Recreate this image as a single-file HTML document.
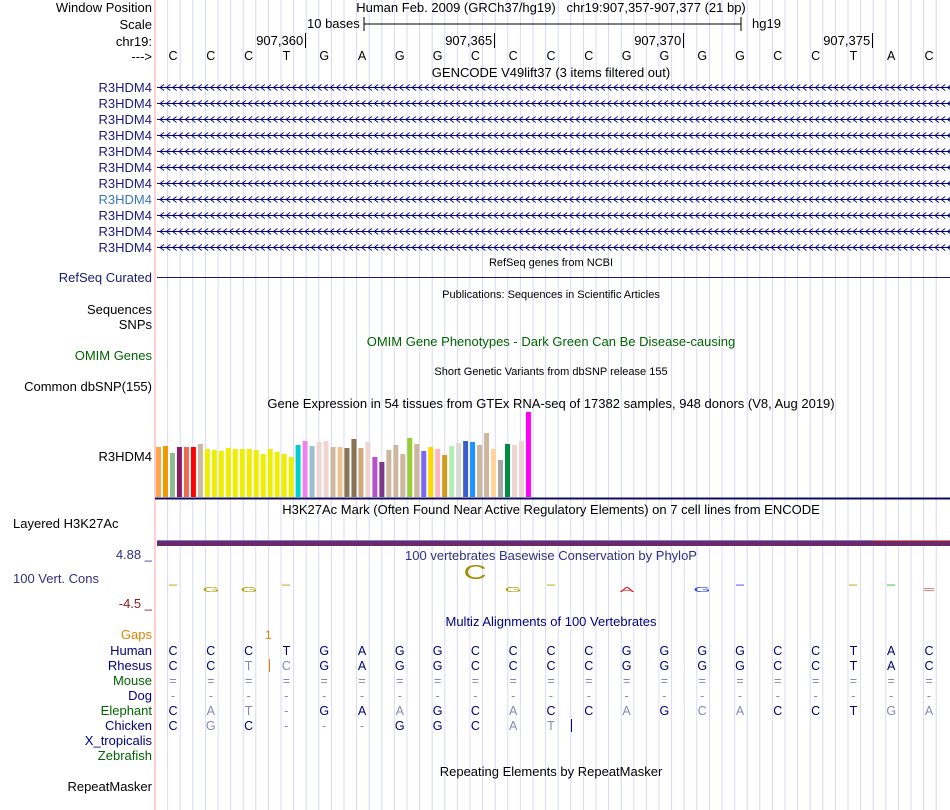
<!DOCTYPE html>
<html><head><meta charset="utf-8"><style>
body{margin:0;width:950px;height:810px;background:#fff;position:relative;overflow:hidden;font-family:"Liberation Sans",sans-serif;}
.a{position:absolute;white-space:nowrap;}
.lbl{position:absolute;right:798px;font-size:13px;white-space:nowrap;line-height:15px;}
.lft{position:absolute;left:13px;font-size:13px;white-space:nowrap;line-height:15px;}
.t{position:absolute;font-size:13px;white-space:nowrap;transform:translateX(-50%);line-height:15px;}
.t.s{font-size:11px;}
.b{position:absolute;font-size:12.5px;transform:translateX(-50%);line-height:14px;}
</style></head><body>
<svg width="950" height="810" style="position:absolute;left:0;top:0">
<g id="grid"></g>
<line x1="155" y1="0" x2="155" y2="810" stroke="#f4a0a0" stroke-width="1"/>
</svg>

<div class="lbl" style="top:0px">Window Position</div>
<div class="lbl" style="top:17px">Scale</div>
<div class="lbl" style="top:34px">chr19:</div>
<div class="lbl" style="top:49px">---&gt;</div>
<div class="t" style="left:551px;top:0px">Human Feb. 2009 (GRCh37/hg19) &nbsp; chr19:907,357-907,377 (21 bp)</div>
<div class="a" style="left:307px;top:16px;font-size:13px">10 bases</div>
<svg style="position:absolute;left:360px;top:16px" width="390" height="16"><line x1="4" y1="8" x2="381" y2="8" stroke="#000"/><line x1="4" y1="1" x2="4" y2="15" stroke="#000"/><line x1="381" y1="1" x2="381" y2="15" stroke="#000"/></svg>
<div class="a" style="left:752px;top:16px;font-size:13px">hg19</div>
<div id="ruler"></div>
<div id="bases"></div>
<div class="t" style="left:551px;top:65px">GENCODE V49lift37 (3 items filtered out)</div>
<div id="genes"></div>
<div class="t s" style="left:551px;top:256px">RefSeq genes from NCBI</div>
<div class="lbl" style="top:270px;color:#1a1a70">RefSeq Curated</div>
<div class="a" style="left:157px;top:277px;width:793px;height:1px;background:#1a1a70"></div>
<div class="t s" style="left:551px;top:288px">Publications: Sequences in Scientific Articles</div>
<div class="lbl" style="top:302px">Sequences</div>
<div class="lbl" style="top:317px">SNPs</div>
<div class="t" style="left:551px;top:334px;color:#006400">OMIM Gene Phenotypes - Dark Green Can Be Disease-causing</div>
<div class="lbl" style="top:348px;color:#006400">OMIM Genes</div>
<div class="t s" style="left:551px;top:365px">Short Genetic Variants from dbSNP release 155</div>
<div class="lbl" style="top:379px">Common dbSNP(155)</div>
<div class="t" style="left:551px;top:396px">Gene Expression in 54 tissues from GTEx RNA-seq of 17382 samples, 948 donors (V8, Aug 2019)</div>
<div class="lbl" style="top:449px">R3HDM4</div>
<svg id="gtex" width="950" height="110" style="position:absolute;left:0;top:405px"></svg>
<div class="t" style="left:551px;top:502px">H3K27Ac Mark (Often Found Near Active Regulatory Elements) on 7 cell lines from ENCODE</div>
<div class="lft" style="top:516px">Layered H3K27Ac</div>
<div class="a" style="left:157px;top:540px;width:716px;height:1px;background:#8080e0"></div>
<div class="a" style="left:873px;top:540px;width:77px;height:1px;background:#f07070"></div>
<div class="a" style="left:157px;top:541px;width:793px;height:5px;background:#6a2a6a"></div>
<div class="lbl" style="top:547px;color:#303080">4.88 _</div>
<div class="t" style="left:551px;top:548px;color:#303080">100 vertebrates Basewise Conservation by PhyloP</div>
<div class="lft" style="top:571px;color:#303080">100 Vert. Cons</div>
<div class="lbl" style="top:596px;color:#8b1a1a">-4.5 _</div>
<div id="cons"></div>
<div class="t" style="left:551px;top:614px;color:#000080">Multiz Alignments of 100 Vertebrates</div>
<div class="lbl" style="top:627px;color:#e08000">Gaps</div>
<div class="a" style="left:265px;top:628px;font-size:12px;color:#e08000">1</div>
<div id="multiz"></div>
<div class="lbl" style="top:733px;color:#000080">X_tropicalis</div>
<div class="lbl" style="top:748px;color:#006400">Zebrafish</div>
<div class="t" style="left:551px;top:764px">Repeating Elements by RepeatMasker</div>
<div class="lbl" style="top:779px">RepeatMasker</div>

<script>
const bases=["C","C","C","T","G","A","G","G","C","C","C","C","G","G","G","G","C","C","T","A","C"];
const gtexValues=[50,51,44,50,50,50,53,48,47,46,49,48,48,48,47,43,48,45,43,40,52,56,51,55,56,50,50,49,58,49,55,40,35,47,52,43,59,53,46,50,48,42,51,54,56,55,52,64,48,37,53,52,56,85];
const gtexColors=["#FFA54F","#EE9A00","#8FBC8F","#8B1C62","#EE6A50","#FF0000","#CDB79E","#EEEE00","#EEEE00","#EEEE00","#EEEE00","#EEEE00","#EEEE00","#EEEE00","#EEEE00","#EEEE00","#EEEE00","#EEEE00","#EEEE00","#EEEE00","#00CED1","#EE82EE","#9AC0CD","#EED5D2","#EED5D2","#CDB79E","#EEC591","#8B7355","#8B7355","#CDAA7D","#EED5D2","#B452CD","#7A378B","#CDB79E","#CDB79E","#CDB79E","#9ACD32","#CDB79E","#7B68EE","#FFD700","#FFB6C1","#CD9B1D","#B4EEB4","#D9D9D9","#3A5FCD","#1E90FF","#CDB79E","#CDB79E","#FFD39B","#A6A6A6","#008B45","#EED5D2","#EED5D2","#FF00FF"];
const rulerLabels=["907,360","907,365","907,370","907,375"];
const rulerIdx=[3.5,8.5,13.5,18.5];
const species=["Human","Rhesus","Mouse","Dog","Elephant","Chicken"];
const speciesColors=["#000080","#000080","#006400","#000080","#006400","#000080"];
const alignRows=["CCCTGAGGCCCCGGGGCCTAC","CCTCGAGGCCCCGGGGCCTAC","=====================","---------------------","CAT-GAAGCACCAGCACCTGA","CGC---GGCAT          "];
const alignGray=["000000000000000000000","001100000000000000000","111111111111111111111","111111111111111111111","011100100100101100011","010111000110000000000"];
const consGlyphs=[[0,"-","#b0a000",0],[1,"G","#b0a000",1],[2,"G","#b0a000",1],[3,"-","#b0a000",0],[8,"C","#a09000",2],[9,"G","#b0a000",1],[10,"-","#b0a000",0],[12,"A","#e02020",1],[14,"G","#2040e0",1],[15,"-","#4040e0",0],[18,"-","#b0a000",0],[19,"-","#20c020",0],[20,"=","#e04040",1]];
const X0=155, BW=37.8;
const bx=i=>X0+18+BW*i;
const g=document.getElementById('grid');
for(let k=1;k<63;k++){const l=document.createElementNS('http://www.w3.org/2000/svg','line');const x=X0+BW/3*k;l.setAttribute('x1',x);l.setAttribute('x2',x);l.setAttribute('y1',0);l.setAttribute('y2',810);l.setAttribute('stroke','#d8d8f4');


g.appendChild(l);}
const r=document.getElementById('ruler');
rulerLabels.forEach((t,i)=>{const d=document.createElement('div');d.className='a';d.style.cssText=`left:${X0+BW*(rulerIdx[i]+0.5)-63}px;top:33px;font-size:13px;width:60px;text-align:right;border-right:1px solid #000;padding-right:2px;line-height:15px`;d.textContent=t;


r.appendChild(d);});
const bs=document.getElementById('bases');
bases.forEach((b,i)=>{const d=document.createElement('div');d.className='b';d.style.left=bx(i)+'px';d.style.top='49px';d.textContent=b;


bs.appendChild(d);});
const gn=document.getElementById('genes');
let chev='';for(let x=160;x<948;x+=6.3)chev+=`<path d="M${x+4} 4.5L${x} 7.5L${x+4} 10.5" fill="none" stroke="#000080" stroke-width="0.9"/>`;
for(let k=0;k<11;k++){const y=80+16*k;
const l=document.createElement('div');l.className='lbl';l.style.top=(y-0.5)+'px';l.style.color=k==7?'#3a78b8':'#1a1a80';l.textContent='R3HDM4';


gn.appendChild(l);
const s=document.createElementNS('http://www.w3.org/2000/svg','svg');s.setAttribute('width',950);s.setAttribute('height',15);s.style.cssText=`position:absolute;left:0;top:${y}px`;
s.innerHTML=`<line x1="157" y1="7.5" x2="950" y2="7.5" stroke="#000080"/>`+chev;


gn.appendChild(s);}
const gt=document.getElementById('gtex');const base=92,scale=1;
gt.innerHTML=`<line x1="155" y1="${base+1.5}" x2="950" y2="${base+1.5}" stroke="#0c0c60" stroke-width="2"/>`;
gtexValues.forEach((v,i)=>{const rc=document.createElementNS('http://www.w3.org/2000/svg','rect');const h=v*scale;rc.setAttribute('x',155+6.98*i+1);rc.setAttribute('width',5);rc.setAttribute('y',base-h);rc.setAttribute('height',h);rc.setAttribute('fill',gtexColors[i]);


gt.appendChild(rc);});
const cs=document.getElementById('cons');
consGlyphs.forEach(([i,ch,col,sz])=>{const d=document.createElement('div');d.className='b';d.style.left=bx(i)+'px';d.style.color=col;
if(sz==2){d.style.top='566px';d.style.fontSize='20px';d.style.transform='translateX(-50%) scaleX(1.6)';}
else if(sz==1){d.style.top='583px';d.style.fontSize='11px';d.style.transform='translateX(-50%) scale(2,0.7)';}
else {d.style.top='578px';d.style.fontSize='11px';d.style.transform='translateX(-50%) scaleX(3)';}
d.textContent=ch;


cs.appendChild(d);});
const mz=document.getElementById('multiz');
species.forEach((sp,k)=>{const y=644+15*k;
const l=document.createElement('div');l.className='lbl';l.style.top=(y-1)+'px';l.style.color=speciesColors[k];l.textContent=sp;


mz.appendChild(l);
[...alignRows[k]].forEach((c,i)=>{if(c===' ')return;const d=document.createElement('div');d.className='b';d.style.left=bx(i)+'px';d.style.top=y+'px';d.style.color=alignGray[k][i]==='1'?'#8888b8':'#000070';d.textContent=c;


mz.appendChild(d);});});
[[269,659,'#e08000'],[571,719,'#000080']].forEach(([x,y,c])=>{const d=document.createElement('div');d.className='a';d.style.cssText=`left:${x}px;top:${y}px;width:1px;height:13px;background:${c}`;


mz.appendChild(d);});
</script>
</body></html>
